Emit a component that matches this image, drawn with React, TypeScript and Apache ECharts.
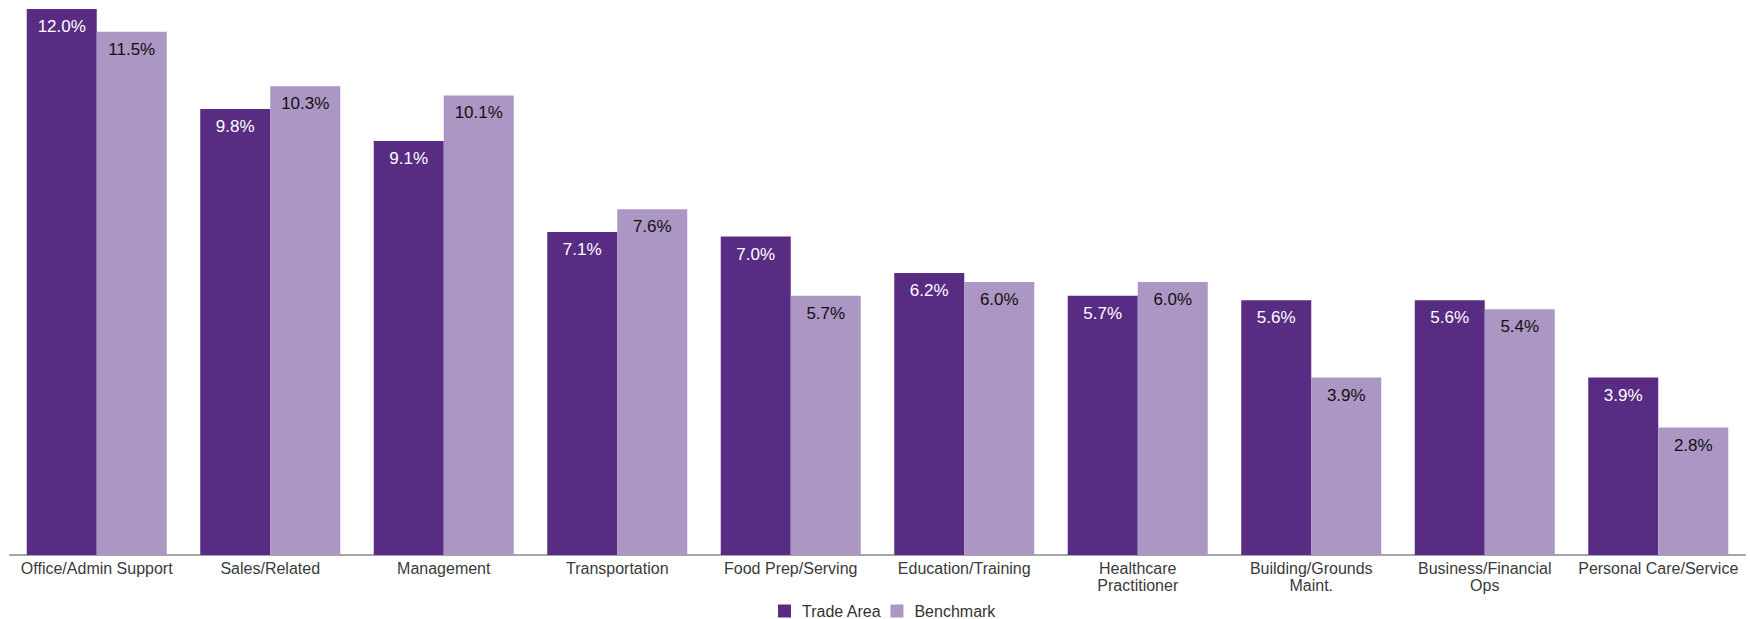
import React, { useEffect, useRef } from "react";
import * as echarts from "echarts";

const categories = [
  "Office/Admin Support",
  "Sales/Related",
  "Management",
  "Transportation",
  "Food Prep/Serving",
  "Education/Training",
  "Healthcare\nPractitioner",
  "Building/Grounds\nMaint.",
  "Business/Financial\nOps",
  "Personal Care/Service",
];
const tradeArea = [12.0, 9.8, 9.1, 7.1, 7.0, 6.2, 5.7, 5.6, 5.6, 3.9];
const benchmark = [11.5, 10.3, 10.1, 7.6, 5.7, 6.0, 6.0, 3.9, 5.4, 2.8];
const seriesNames = ["Trade Area", "Benchmark"];

const FONT = "'Liberation Sans', Arial, sans-serif";

export default function App() {
  const ref = useRef<HTMLDivElement>(null);
  useEffect(() => {
    if (!ref.current) return;
    const chart = echarts.init(ref.current, null, { renderer: "svg" });
    const label = (color: string) => ({
      show: true,
      position: "insideTop",
      distance: 9,
      color,
      fontSize: 17,
      fontFamily: FONT,
      formatter: (p: any) => Number(p.value).toFixed(1) + "%",
    });
    chart.setOption({
      animation: false,
      textStyle: { fontFamily: FONT },
      grid: { left: 10, right: 5, top: 9, bottom: 64, containLabel: false },
      legend: {
        left: 778,
        top: 603,
        padding: 0,
        itemWidth: 13,
        itemHeight: 13,
        itemGap: 9,
        icon: "rect",
        textStyle: {
          fontSize: 16,
          lineHeight: 16,
          color: "#333",
          fontFamily: FONT,
          padding: [0, 0, 0, 6],
        },
        data: seriesNames,
      },
      xAxis: {
        type: "category",
        data: categories,
        axisLine: { lineStyle: { color: "#a6a6a6", width: 2 } },
        axisTick: { show: false },
        axisLabel: {
          color: "#3a3a3a",
          fontSize: 16,
          lineHeight: 17,
          margin: 5,
          interval: 0,
          fontFamily: FONT,
        },
      },
      yAxis: {
        type: "value",
        min: 0,
        max: 12,
        show: false,
        splitLine: { show: false },
      },
      series: [
        {
          name: seriesNames[0],
          type: "bar",
          data: tradeArea,
          barGap: "0%",
          barCategoryGap: "19.3%",
          itemStyle: { color: "#582c83" },
          label: label("#ffffff"),
        },
        {
          name: seriesNames[1],
          type: "bar",
          data: benchmark,
          barGap: "0%",
          barCategoryGap: "19.3%",
          itemStyle: { color: "#ac96c3" },
          label: label("#111111"),
        },
      ],
    });
    return () => chart.dispose();
  }, []);
  return (
    <div
      ref={ref}
      style={{ position: "fixed", left: 0, top: 0, width: 1750, height: 619, background: "#fff" }}
    />
  );
}
